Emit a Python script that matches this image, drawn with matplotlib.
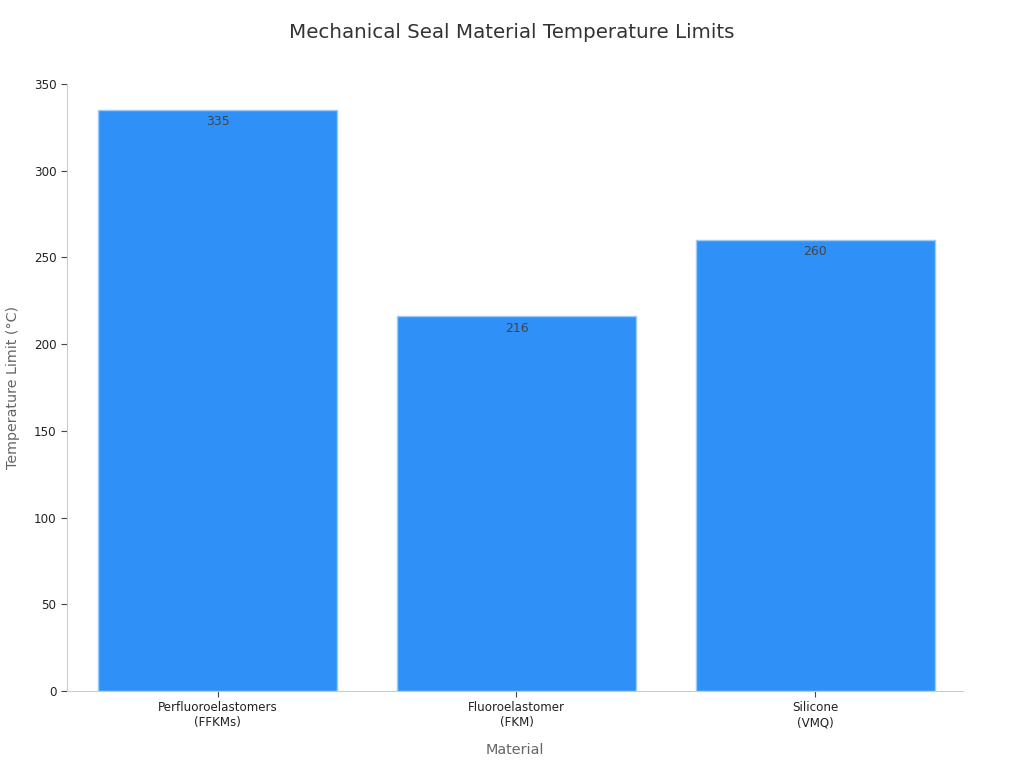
import matplotlib
matplotlib.use('Agg')
import matplotlib.pyplot as plt

materials = ['Perfluoroelastomers\n(FFKMs)', 'Fluoroelastomer\n(FKM)', 'Silicone\n(VMQ)']
temp_limits = [335, 216, 260]

fig = plt.figure(figsize=(10.24, 7.68), dpi=100)
ax = fig.add_axes([0.0654, 0.1003, 0.875, 0.7903])

x = range(len(materials))
bars = ax.bar(x, temp_limits, width=0.8, color='#2F91F8', edgecolor='#9CCBF7', linewidth=1)

for bar, val in zip(bars, temp_limits):
    ax.text(bar.get_x() + bar.get_width() / 2, val - 3, str(val),
            ha='center', va='top', fontsize=9, color='#444444')

ax.set_xlim(-0.505, 2.495)
ax.set_ylim(0, 350)
ax.set_xticks(list(x))
ax.set_xticklabels(materials, fontsize=8.6, color='#222222')
ax.set_yticks(range(0, 351, 50))
ax.tick_params(axis='y', labelsize=8.6, labelcolor='#222222', length=4, color='#444444')
ax.tick_params(axis='x', length=4, color='#444444')

for side in ['top', 'right']:
    ax.spines[side].set_visible(False)
for side in ['left', 'bottom']:
    ax.spines[side].set_color('#cccccc')

ax.set_xlabel('Material', fontsize=10.4, color='#666666', labelpad=10)
ax.set_ylabel('Temperature Limit (°C)', fontsize=10.3, color='#666666', labelpad=10)
fig.suptitle('Mechanical Seal Material Temperature Limits', fontsize=14.3, color='#333333', y=0.97)

plt.savefig('out.png', dpi=100)
